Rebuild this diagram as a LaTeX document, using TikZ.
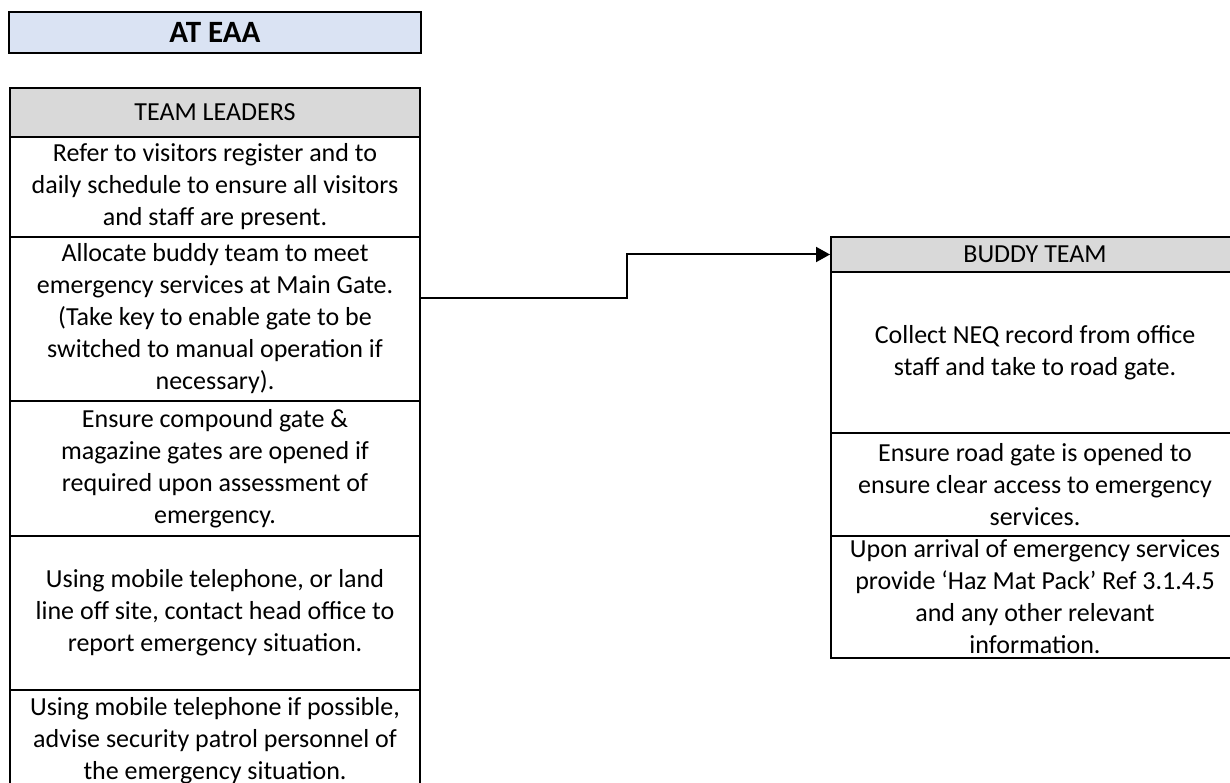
\documentclass[tikz,border=0pt]{standalone}
\usepackage{fontspec}
\setmainfont{Carlito}
\usetikzlibrary{arrows.meta}
\definecolor{headgray}{HTML}{D9D9D9}
\definecolor{titleblue}{HTML}{DAE3F3}
\begin{document}
\begin{tikzpicture}[x=1pt, y=-1pt,
        cell/.style={draw, line width=2pt, inner sep=0pt, align=center, font=\fontsize{26}{32}\selectfont},
        lcell/.style={cell, minimum width=410pt},
        rcell/.style={cell, minimum width=408pt},
        arr/.style={-{Triangle[length=14pt, width=15pt]}, line width=2pt}]
        \useasboundingbox (0, 0) rectangle (1230, 783);
        \node[cell, fill=titleblue, minimum width=412pt, minimum height=41pt, font=\fontsize{31}{36}\selectfont\bfseries] (title) at (215, 32.5) {AT EAA};
        \node[lcell, fill=headgray, minimum height=49pt] (lhead) at (215, 112.5) {TEAM LEADERS};
        \node[lcell, minimum height=100pt] (lact1) at (215, 187) {Refer to visitors register and to\\daily schedule to ensure all visitors\\and staff are present.};
        \node[lcell, minimum height=164pt] (lact2) at (215, 319) {Allocate buddy team to meet\\emergency services at Main Gate.\\(Take key to enable gate to be\\switched to manual operation if\\necessary).};
        \node[lcell, minimum height=135pt] (lact3) at (215, 468.5) {Ensure compound gate \&\\magazine gates are opened if\\required upon assessment of\\emergency.};
        \node[lcell, minimum height=154pt] (lact4) at (215, 613) {Using mobile telephone, or land\\line off site, contact head office to\\report emergency situation.};
        \node[lcell, minimum height=102pt] (lact5) at (215, 741) {Using mobile telephone if possible,\\advise security patrol personnel of\\the emergency situation.};
        \node[rcell, fill=headgray, minimum height=35pt] (bhead) at (1035, 254.5) {BUDDY TEAM};
        \node[rcell, minimum height=161pt] (bact1) at (1035, 352.5) {Collect NEQ record from office\\staff and take to road gate.};
        \node[rcell, minimum height=103pt] (bact2) at (1035, 484.5) {Ensure road gate is opened to\\ensure clear access to emergency\\services.};
        \node[rcell, minimum height=122pt] (bact3) at (1035, 597) {Upon arrival of emergency services\\provide ‘Haz Mat Pack’ Ref 3.1.4.5\\and any other relevant\\information.};
        \draw[arr] ([yshift=21pt]lact2.east) -- ++(206, 0) |- (bhead.west);
\end{tikzpicture}
\end{document}
